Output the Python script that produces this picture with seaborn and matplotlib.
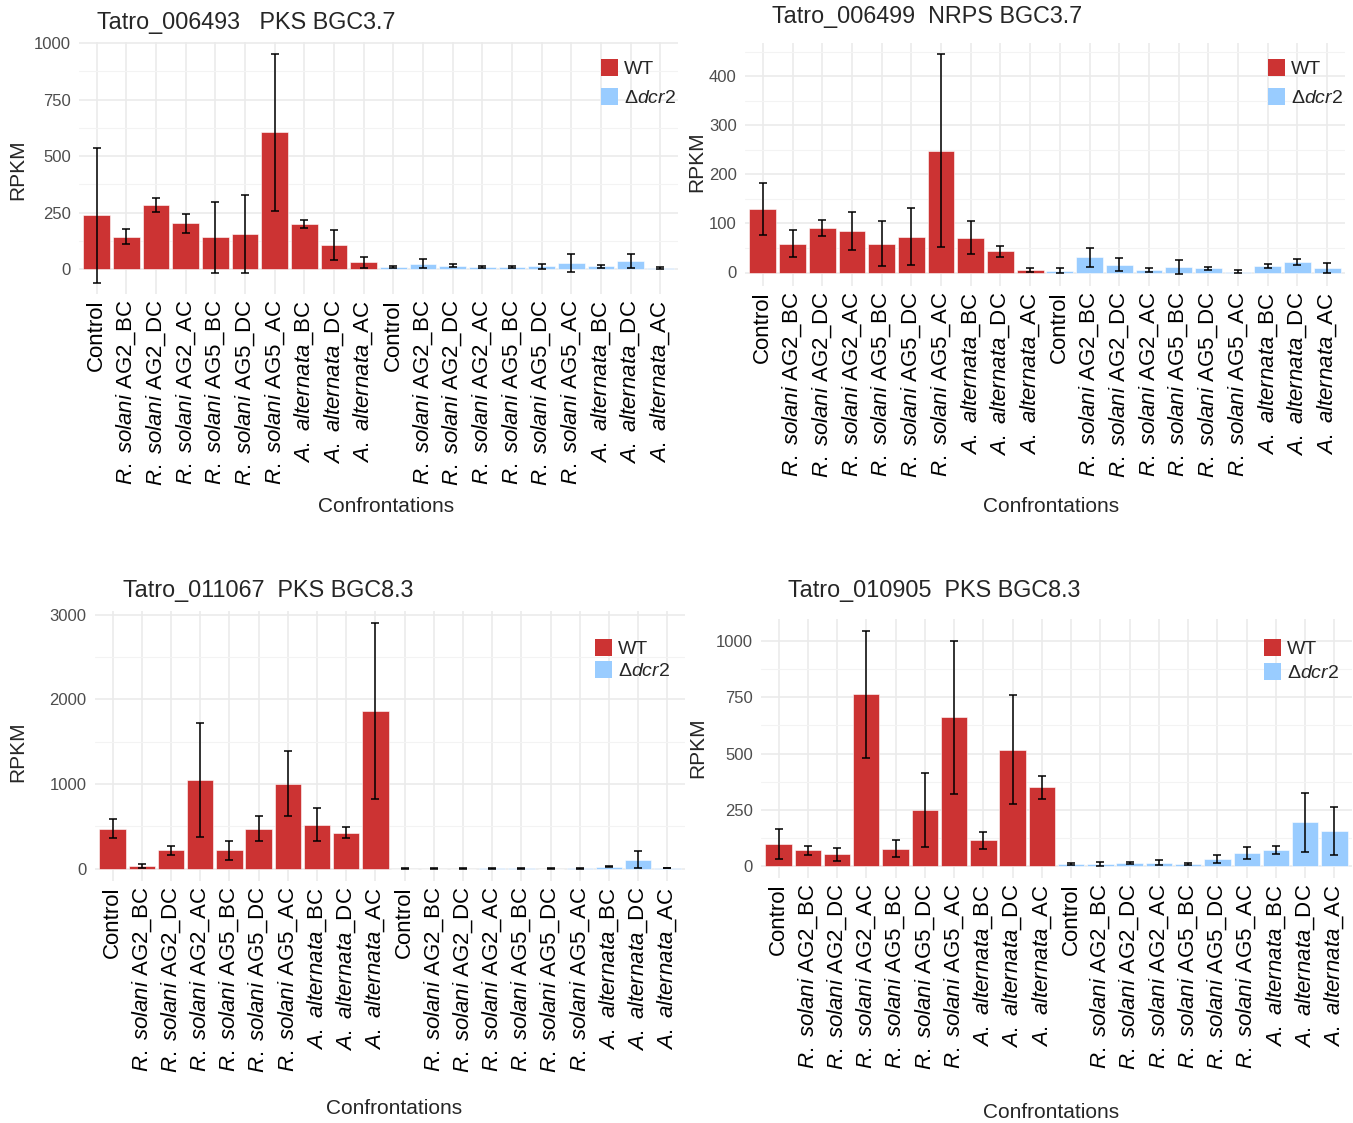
import numpy as np
import pandas as pd
import matplotlib
matplotlib.use("Agg")
import matplotlib.pyplot as plt
from matplotlib.patches import Patch
import seaborn as sns

# ---------------- data ----------------
conditions = ["Control", "R. solani AG2_BC", "R. solani AG2_DC", "R. solani AG2_AC",
              "R. solani AG5_BC", "R. solani AG5_DC", "R. solani AG5_AC",
              "A. alternata_BC", "A. alternata_DC", "A. alternata_AC"]
genotypes = ["WT", "dcr2"]

titles = ["Tatro_006493   PKS BGC3.7", "Tatro_006499  NRPS BGC3.7",
          "Tatro_011067  PKS BGC8.3", "Tatro_010905  PKS BGC8.3"]

# panel 1: Tatro_006493
p1_wt = [239, 143, 282, 204, 140, 155, 606, 199, 106, 30]
p1_wt_err = [299, 33, 31, 42, 157, 173, 347, 19, 66, 25]
p1_ko = [9, 24, 15, 9, 10, 12, 27, 12, 36, 5]
p1_ko_err = [6, 19, 6, 4, 6, 12, 38, 7, 32, 4]

# panel 2: Tatro_006499
p2_wt = [129, 59, 90, 85, 59, 73, 248, 71, 43, 6]
p2_wt_err = [53, 28, 16, 39, 46, 58, 197, 34, 11, 4]
p2_ko = [4, 31, 16, 5, 11, 9, 2, 13, 22, 10]
p2_ko_err = [6, 19, 13, 4, 14, 3, 3, 4, 6, 10]

# panel 3: Tatro_011067
p3_wt = [472, 31, 216, 1049, 216, 472, 1006, 519, 424, 1859]
p3_wt_err = [110, 24, 53, 674, 114, 149, 383, 197, 65, 1040]
p3_ko = [1, 2, 1, 5, 5, 2, 4, 24, 106, 8]
p3_ko_err = [3, 3, 2, 4, 4, 3, 3, 8, 102, 4]

# panel 4: Tatro_010905
p4_wt = [100, 70, 53, 763, 77, 250, 661, 115, 518, 350]
p4_wt_err = [67, 21, 30, 282, 38, 166, 340, 38, 241, 50]
p4_ko = [10, 9, 15, 16, 9, 33, 58, 74, 195, 155]
p4_ko_err = [6, 8, 4, 10, 5, 19, 27, 18, 131, 106]

panels = [(p1_wt, p1_wt_err, p1_ko, p1_ko_err),
          (p2_wt, p2_wt_err, p2_ko, p2_ko_err),
          (p3_wt, p3_wt_err, p3_ko, p3_ko_err),
          (p4_wt, p4_wt_err, p4_ko, p4_ko_err)]

# ---------------- style ----------------
sns.set_theme(style="whitegrid")
plt.rcParams['font.family'] = ['Liberation Sans', 'DejaVu Sans']
plt.rcParams['mathtext.fontset'] = 'custom'
plt.rcParams['mathtext.rm'] = 'Liberation Sans'
plt.rcParams['mathtext.it'] = 'Liberation Sans:italic'
plt.rcParams['mathtext.default'] = 'regular'

RED = "#CC3333"
BLUE = "#99CCFF"
GRID = "#EBEBEB"
GRID_MINOR = "#F3F3F3"
TICK_COL = "#4D4D4D"

W, H = 1353, 1123
fig = plt.figure(figsize=(W / 100, H / 100), dpi=100)
fig.patch.set_facecolor("white")


def fig_rect(l, t, r, b):
    return [l / W, 1 - b / H, (r - l) / W, (b - t) / H]


def fmt_label(c):
    if c.startswith("R. solani"):
        return r"$\it{R.\ solani}$" + c[len("R. solani"):]
    if c.startswith("A. alternata"):
        return r"$\it{A.\ alternata}$" + c[len("A. alternata"):]
    return c


axes_px = [(79, 42, 678, 294), (745, 43, 1345, 286),
           (95, 611, 685, 881), (761, 619, 1352, 878)]
ylims = [(-110, 1005), (-27.5, 467.5), (-145, 3044), (-52, 1097)]
major = [np.arange(0, 1001, 250), np.arange(0, 401, 100),
         np.arange(0, 3001, 1000), np.arange(0, 1001, 250)]
minor = [np.arange(125, 1000, 250), np.arange(50, 451, 100),
         np.arange(500, 3001, 1000), np.arange(125, 1100, 250)]
title_pos = [(97, 22), (772, 17), (123, 591), (788, 590)]
ylab_pos = [(18, 170), (697, 162), (18, 752), (698, 748)]
xlab_pos = [(386, 506), (1051, 506), (394, 1108), (1051, 1112)]
leg_pos = [(601, 59), (1268, 59), (595, 639), (1264, 639)]
leg_spacing = [0.5, 0.5, 0.15, 0.25]

for i, (wt, wte, ko, koe) in enumerate(panels):
    ids = [f"WT|{c}" for c in conditions] + [f"KO|{c}" for c in conditions]
    df = pd.DataFrame({
        "cond": ids,
        "RPKM": list(wt) + list(ko),
        "err": list(wte) + list(koe),
        "genotype": ["WT"] * 10 + ["dcr2"] * 10,
    })
    ax = fig.add_axes(fig_rect(*axes_px[i]))
    ax.set_facecolor("white")
    sns.barplot(data=df, x="cond", y="RPKM", hue="genotype", order=ids,
                palette={"WT": RED, "dcr2": BLUE}, dodge=False, width=0.9,
                saturation=1, errorbar=None, legend=False, edgecolor="white",
                linewidth=0.4, ax=ax, zorder=2)
    xs = np.arange(len(ids))
    ax.errorbar(xs, df["RPKM"], yerr=df["err"], fmt="none", ecolor="black",
                elinewidth=1.1, capsize=2.6, capthick=1.1, zorder=3)
    ax.set_xlim(-0.6, 19.6)
    ax.set_ylim(*ylims[i])
    ax.set_yticks(major[i])
    ax.set_yticks(minor[i], minor=True)
    ax.set_xticks(xs)
    ax.set_xticklabels([fmt_label(c) for c in conditions] * 2, rotation=90,
                       fontsize=16, color="black")
    ax.tick_params(axis="y", labelsize=12, colors=TICK_COL, length=0, pad=6)
    ax.tick_params(axis="x", length=0, pad=4)
    ax.tick_params(axis="y", which="minor", length=0)
    ax.grid(True, which="major", axis="both", color=GRID, linewidth=1.2, zorder=0)
    ax.grid(True, which="minor", axis="y", color=GRID_MINOR, linewidth=0.8, zorder=0)
    ax.set_axisbelow(True)
    for s in ax.spines.values():
        s.set_visible(False)
    ax.set_xlabel("")
    ax.set_ylabel("")

    tx, ty = title_pos[i]
    fig.text(tx / W, 1 - ty / H, titles[i], fontsize=16.8, ha="left", va="center")
    yx, yy = ylab_pos[i]
    fig.text(yx / W, 1 - yy / H, "RPKM", fontsize=15, rotation=90,
             ha="center", va="center")
    xx, xy = xlab_pos[i]
    fig.text(xx / W, 1 - xy / H, "Confrontations", fontsize=15,
             ha="center", va="center")

    lx, ly = leg_pos[i]
    handles = [Patch(facecolor=RED, edgecolor="none"),
               Patch(facecolor=BLUE, edgecolor="none")]
    ax.legend(handles, ["WT", r"Δ$\it{dcr2}$"], loc="upper left",
              bbox_to_anchor=(lx / W, 1 - ly / H), bbox_transform=fig.transFigure,
              frameon=False, fontsize=14, handlelength=0.85, handleheight=0.95,
              handletextpad=0.35, labelspacing=leg_spacing[i], borderpad=0,
              borderaxespad=0)

fig.savefig("out.png", dpi=100, facecolor="white")
